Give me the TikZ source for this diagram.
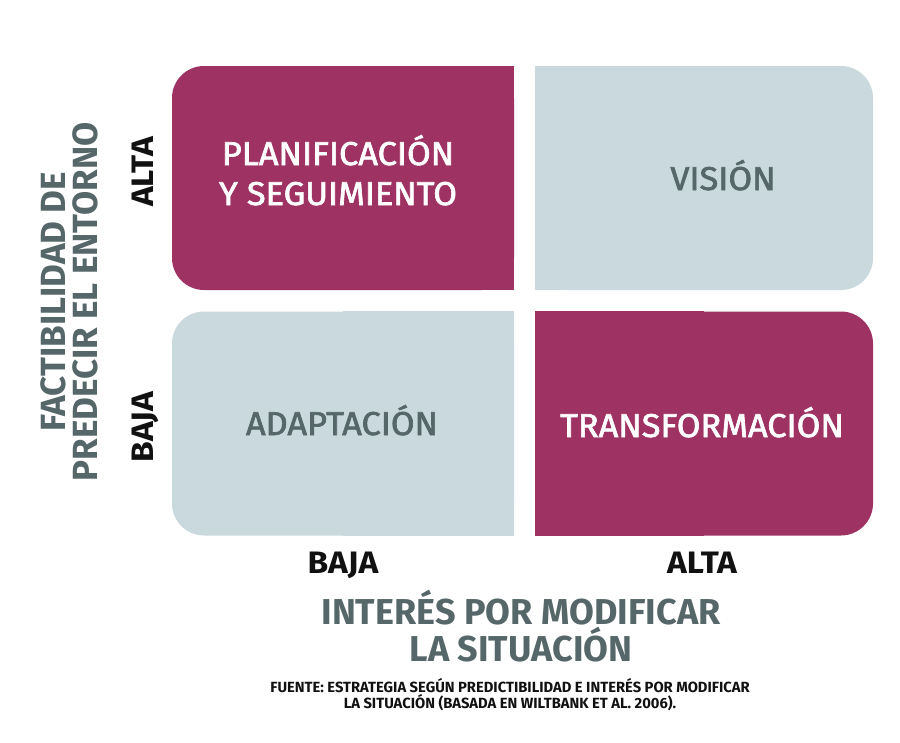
\documentclass[tikz,border=0pt]{standalone}
\usepackage{fontspec}
\setmainfont{Fira Sans}
\newfontfamily\boxfont{Fira Sans}[FakeBold=2, FakeStretch=1.04]
\newfontfamily\axfont{Fira Sans}[FakeStretch=1.08]
\usetikzlibrary{backgrounds}
\definecolor{mag}{RGB}{158,51,99}
\definecolor{pale}{RGB}{201,217,221}
\definecolor{slate}{RGB}{86,103,105}
\definecolor{ink}{RGB}{17,17,17}
\begin{document}
\begin{tikzpicture}[x=1pt,y=-1pt,
  quad/.style={minimum width=342pt, minimum height=224pt, rounded corners=32pt,
    inner sep=0pt, draw=none},
  boxtext/.style={align=center, inner sep=0pt, anchor=base, font=\boxfont\fontsize{33}{40}\selectfont},
  axlab/.style={inner sep=0pt, anchor=base, text=ink, font=\axfont\bfseries\fontsize{31}{33}\selectfont},
  title/.style={inner sep=0pt, align=center, anchor=base, text=slate, font=\bfseries\fontsize{36}{28}\selectfont},
  note/.style={inner sep=0pt, align=center, anchor=base, text=ink, font=\bfseries\fontsize{14.75}{14}\selectfont}]
\useasboundingbox (0,0) rectangle (900,742);

% quadrants
\node[quad, fill=mag]  (pl) at (343,178) {};
\node[quad, fill=pale, minimum width=338pt] (vi) at (704,178) {};
\node[quad, fill=pale] (ad) at (343,423.5) {};
\node[quad, fill=mag, minimum width=338pt]  (tr) at (704,423.5) {};
\begin{scope}[on background layer]
  \fill[mag]  (pl.north) rectangle (pl.south east);
  \fill[pale] (vi.north west) rectangle (vi.south);
  \fill[pale] (ad.north) rectangle (ad.south east);
  \fill[mag]  (tr.north west) rectangle (tr.south);
\end{scope}

% quadrant texts
\node[boxtext, text=white] (plt) at (338,205) {PLANIFICACIÓN\\Y SEGUIMIENTO};
\node[boxtext, text=slate] (vit) at (723,190) {VISIÓN};
\node[boxtext, text=slate] (adt) at (342,435) {ADAPTACIÓN};
\node[boxtext, text=white] (trt) at (702,437) {TRANSFORMACIÓN};

% vertical axis
\node[axlab, rotate=90] (yalta) at (153,172) {ALTA};
\node[axlab, rotate=90] (ybaja) at (153,427) {BAJA};
\node[title, rotate=90, font=\bfseries\fontsize{35}{32}\selectfont] (ytit) at (97,302) {FACTIBILIDAD DE\\PREDECIR EL ENTORNO};

% horizontal axis
\node[axlab] (xbaja) at (343,573) {BAJA};
\node[axlab] (xalta) at (702,573) {ALTA};
\node[title] (xtit) at (521,661) {INTERÉS POR MODIFICAR\\LA SITUACIÓN};

% source
\node[note] (src) at (510,708) {FUENTE: ESTRATEGIA SEGÚN PREDICTIBILIDAD E INTERÉS POR MODIFICAR\\LA SITUACIÓN (BASADA EN WILTBANK ET AL. 2006).};
\end{tikzpicture}
\end{document}
